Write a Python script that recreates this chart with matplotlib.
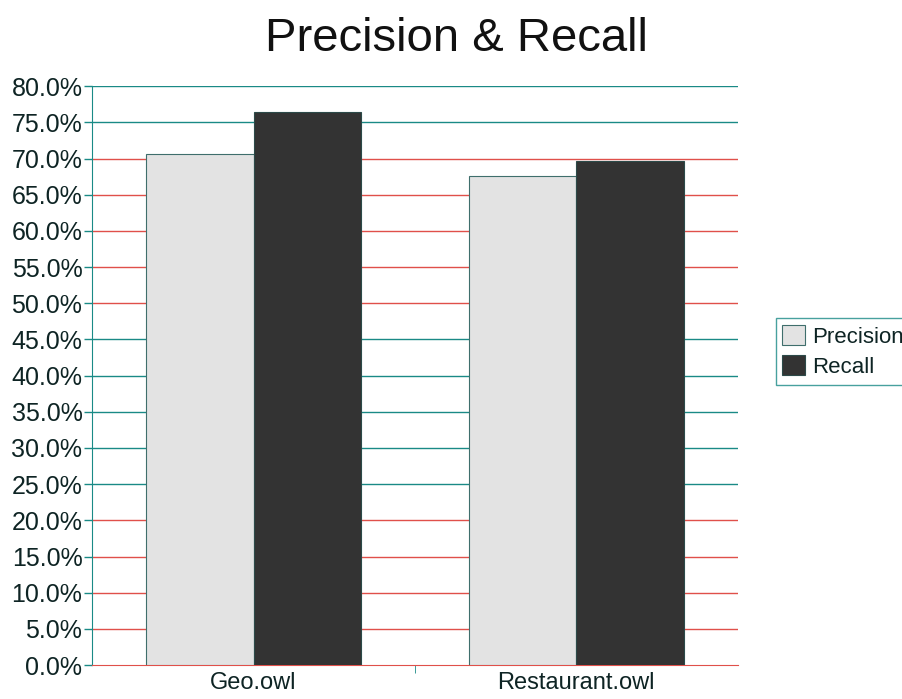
import matplotlib.pyplot as plt
import numpy as np

plt.rcParams['font.family'] = ['Liberation Sans', 'DejaVu Sans']

categories = ['Geo.owl', 'Restaurant.owl']
precision = [70.6, 67.6]
recall = [76.4, 69.6]
y_ticks = [0, 5, 10, 15, 20, 25, 30, 35, 40, 45, 50, 55, 60, 65, 70, 75, 80]

teal = '#1a8a86'
red = '#e0504a'
text_col = '#0e2424'

fig = plt.figure(figsize=(9.03, 6.99), dpi=100)
ax = fig.add_axes([0.102, 0.0486, 0.715, 0.828])

x = np.arange(len(categories))
w = 0.334
ax.bar(x - w / 2, precision, w, color='#e3e3e3', edgecolor='#3f6e6c',
       linewidth=0.8, label='Precision', zorder=3)
ax.bar(x + w / 2, recall, w, color='#333333', edgecolor='#2c4a49',
       linewidth=0.8, label='Recall', zorder=3)

# gridlines, colours alternate in bands
grid_colors = [red, red, red, red, red, teal, teal, teal, teal, teal,
               red, red, red, red, red, teal, teal]
for v, c in zip(y_ticks, grid_colors):
    if v == 0:
        continue
    ax.axhline(v, color=c, linewidth=1.0, zorder=1)

ax.set_xlim(-0.5, 1.5)
ax.set_ylim(0, 80)
ax.set_yticks(y_ticks)
ax.set_yticklabels([f'{v:.1f}%' for v in y_ticks], fontsize=18, color=text_col)
ax.set_xticks(x)
ax.set_xticklabels(categories, fontsize=17, color=text_col)
ax.tick_params(axis='x', length=0, pad=5)
ax.set_xticks([0.5], minor=True)
ax.tick_params(axis='x', which='minor', length=6, color=teal)
ax.tick_params(axis='y', length=6, color=teal, width=1, pad=1)

for s in ['top', 'right']:
    ax.spines[s].set_visible(False)
ax.spines['left'].set_color(teal)
ax.spines['bottom'].set_color(red)

fig.suptitle('Precision & Recall', fontsize=34, x=0.505, y=0.975,
             color='#111111')

leg = fig.legend(loc='center left', bbox_to_anchor=(0.859, 0.497),
                 fontsize=16, frameon=True, fancybox=False,
                 handlelength=1.0, handleheight=1.0, handletextpad=0.35,
                 borderpad=0.3, labelspacing=0.35, borderaxespad=0)
leg.get_frame().set_edgecolor(teal)
leg.get_frame().set_linewidth(1.0)
for t in leg.get_texts():
    t.set_color(text_col)

fig.savefig('out.png', dpi=100)
